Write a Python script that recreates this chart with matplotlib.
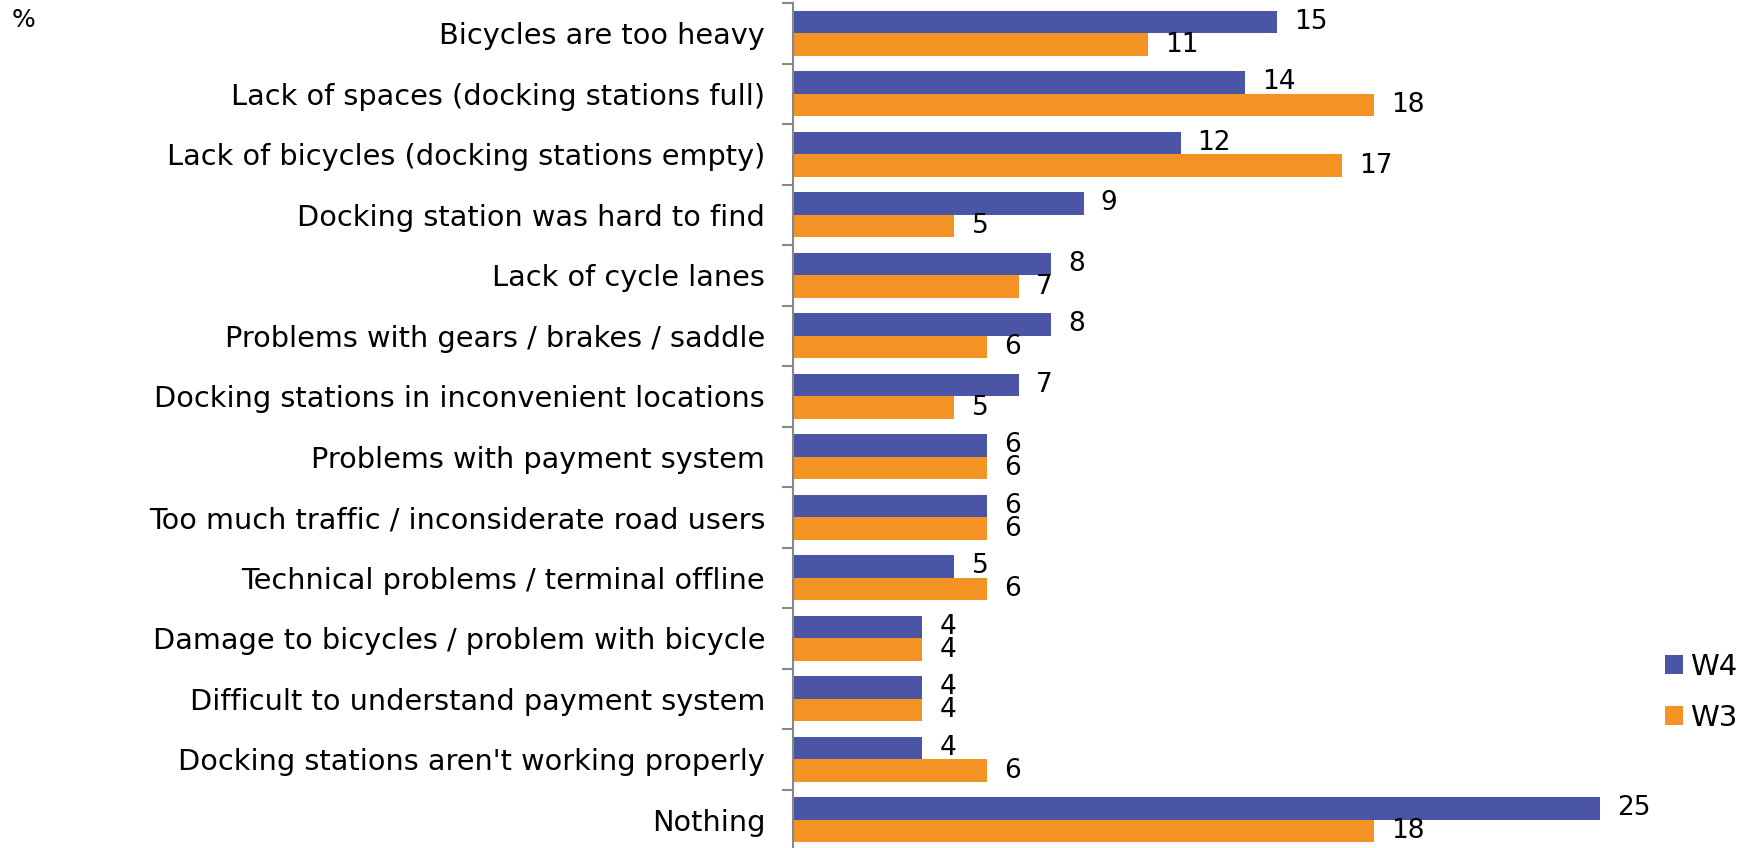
import matplotlib
matplotlib.use("Agg")
import matplotlib.pyplot as plt
import numpy as np

categories = [
    "Bicycles are too heavy",
    "Lack of spaces (docking stations full)",
    "Lack of bicycles (docking stations empty)",
    "Docking station was hard to find",
    "Lack of cycle lanes",
    "Problems with gears / brakes / saddle",
    "Docking stations in inconvenient locations",
    "Problems with payment system",
    "Too much traffic / inconsiderate road users",
    "Technical problems / terminal offline",
    "Damage to bicycles / problem with bicycle",
    "Difficult to understand payment system",
    "Docking stations aren't working properly",
    "Nothing",
]
w4 = [15, 14, 12, 9, 8, 8, 7, 6, 6, 5, 4, 4, 4, 25]
w3 = [11, 18, 17, 5, 7, 6, 5, 6, 6, 6, 4, 4, 6, 18]
series_names = ["W4", "W3"]

blue = "#4A55A6"
orange = "#F39323"

W, H = 1756, 848
fig = plt.figure(figsize=(W / 100, H / 100), dpi=100)
left_px, right_px = 793, 1756
top_px, bottom_px = 3, 850
ax = fig.add_axes([left_px / W, 1 - bottom_px / H, (right_px - left_px) / W, (bottom_px - top_px) / H])

y = np.arange(len(categories))
h = 0.375
b1 = ax.barh(y - h / 2, w4, height=h, color=blue, label=series_names[0])
b2 = ax.barh(y + h / 2, w3, height=h, color=orange, label=series_names[1])

ax.set_xlim(0, (right_px - left_px) / 32.3)
ax.set_ylim(len(categories) - 0.5, -0.5)

for rects, vals in ((b1, w4), (b2, w3)):
    for r, v in zip(rects, vals):
        ax.annotate(str(v), (r.get_width(), r.get_y() + r.get_height() / 2),
                    xytext=(17, 0), textcoords="offset pixels",
                    va="center", ha="left", fontsize=19, color="black")

ax.set_yticks(np.arange(len(categories) + 1) - 0.5)
ax.set_yticklabels([])
ax.set_yticks(y, minor=True)
ax.set_yticklabels(categories, minor=True, fontsize=20.7)
ax.tick_params(axis="y", which="minor", length=0, pad=20)
ax.tick_params(axis="y", which="major", length=8, width=1.5, color="#888888", direction="out")
ax.set_xticks([])
for s in ("top", "right", "bottom"):
    ax.spines[s].set_visible(False)
ax.spines["left"].set_color("#888888")
ax.spines["left"].set_linewidth(1.5)

fig.text(12 / W, 1 - 20 / H, "%", fontsize=18, va="center", ha="left")

leg = fig.legend(handles=[b1, b2], labels=series_names, loc="center left",
                 bbox_to_anchor=(1665 / W, 1 - 692.5 / H), frameon=False,
                 borderpad=0, borderaxespad=0,
                 fontsize=21, handlelength=0.62, handleheight=0.62, handletextpad=0.24,
                 labelspacing=0.8)

fig.savefig("out.png", dpi=100)
